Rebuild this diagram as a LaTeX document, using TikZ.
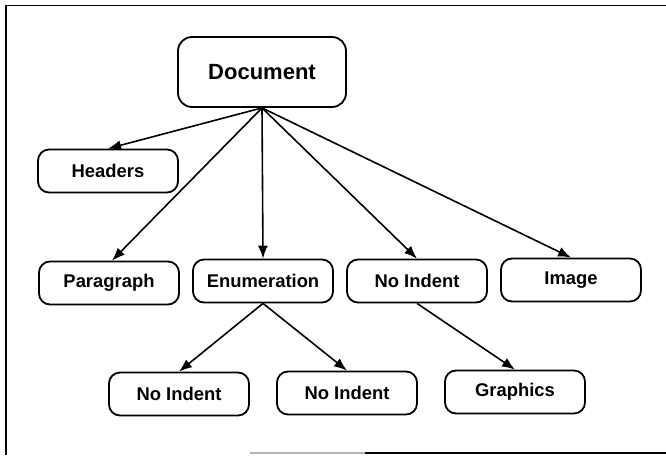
\documentclass[tikz,border=0pt]{standalone}
\usepackage{fontspec}
\setmainfont{Liberation Sans}
\usetikzlibrary{arrows.meta}
\begin{document}
\begin{tikzpicture}[x=1pt,y=-1pt,
  box/.style={draw, line width=1.8pt, rounded corners=11pt, minimum width=140pt, minimum height=43pt, inner sep=0pt, font=\fontsize{18.4}{20}\selectfont\bfseries},
  bigbox/.style={box, minimum width=168pt, minimum height=70pt, rounded corners=14pt, font=\fontsize{22}{24}\selectfont\bfseries},
  conn/.style={draw, line width=1.6pt, -{Latex[length=13pt,width=10pt]}}]
\useasboundingbox (0,0) rectangle (666,455);
% frame
\draw[line width=1.3pt] (666,5.5) -- (6,5.5) -- (6,455);
\draw[line width=1.1pt, gray!60] (250,453) -- (365,453);
\draw[line width=1.4pt] (365,453) -- (666,453);
% nodes
\node[bigbox] (doc) at (262,72) {Document};
\node[box] (hdr) at (108,171) {Headers};
\node[box] (par) at (109,283) {Paragraph};
\node[box] (enu) at (263,281) {Enumeration};
\node[box] (noi) at (417,281) {No Indent};
\node[box] (img) at (571,280) {Image};
\node[box] (na) at (179,394) {No Indent};
\node[box] (nb) at (347,393) {No Indent};
\node[box] (gra) at (515,392) {Graphics};
% connectors
\draw[conn] (doc.south) -- (hdr.north);
\draw[conn] (doc.south) -- ([xshift=3pt]par.north);
\draw[conn] (doc.south) -- (enu.north);
\draw[conn] (doc.south) -- (noi.north);
\draw[conn] (doc.south) -- (img.north);
\draw[conn] (enu.south) -- (na.north);
\draw[conn] (enu.south) -- (nb.north);
\draw[conn] (noi.south) -- (gra.north);
\end{tikzpicture}
\end{document}
